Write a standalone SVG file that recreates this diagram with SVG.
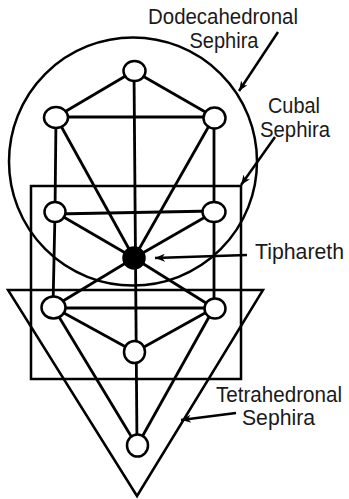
<svg xmlns="http://www.w3.org/2000/svg" width="349" height="499" viewBox="0 0 349 499">
<defs>
<style>
.shape{fill:none;stroke:#000;stroke-width:2.5}
.edge{stroke:#000;stroke-width:2.8;fill:none}
.node{fill:#fff;stroke:#000;stroke-width:2.5}
.solid{fill:#000;stroke:#000;stroke-width:2.5}
.lbl{font-family:"Liberation Sans",Arial,sans-serif;font-size:22px;fill:#1a1a1a;text-anchor:middle}
.ptr{stroke:#000;stroke-width:2.5;fill:none}
</style>
<marker id="ah" viewBox="0 0 10 8" refX="10" refY="4" markerWidth="10" markerHeight="8" markerUnits="userSpaceOnUse" orient="auto">
<path d="M0,0 L10,4 L0,8 L3,4 Z" fill="#000"/>
</marker>
</defs>
<rect width="349" height="499" fill="#fff"/>
<g id="shapes">
<circle class="shape" cx="133" cy="161.5" r="124"/>
<rect class="shape" x="31" y="186" width="210" height="193"/>
<path class="shape" d="M8,290 L263,290 L137,496 Z"/>
</g>
<g id="connectors">
<line class="edge" x1="134" y1="71" x2="137" y2="446"/>
<line class="edge" x1="134" y1="71" x2="56" y2="117"/>
<line class="edge" x1="134" y1="71" x2="214" y2="117"/>
<line class="edge" x1="56" y1="117" x2="214" y2="117"/>
<line class="edge" x1="56" y1="117" x2="55" y2="212"/>
<line class="edge" x1="214" y1="117" x2="214" y2="212"/>
<line class="edge" x1="56" y1="117" x2="134" y2="258"/>
<line class="edge" x1="214" y1="117" x2="134" y2="258"/>
<line class="edge" x1="55" y1="214" x2="214" y2="211"/>
<line class="edge" x1="55" y1="212" x2="134" y2="258"/>
<line class="edge" x1="214" y1="212" x2="134" y2="258"/>
<line class="edge" x1="55" y1="212" x2="53" y2="307"/>
<line class="edge" x1="214" y1="212" x2="214" y2="308"/>
<line class="edge" x1="53" y1="307" x2="134" y2="258"/>
<line class="edge" x1="214" y1="308" x2="134" y2="258"/>
<line class="edge" x1="53" y1="308" x2="214" y2="308"/>
<line class="edge" x1="53" y1="307" x2="135" y2="352"/>
<line class="edge" x1="214" y1="308" x2="135" y2="352"/>
<line class="edge" x1="53" y1="307" x2="137" y2="446"/>
<line class="edge" x1="214" y1="308" x2="137" y2="446"/>
<line class="ptr" x1="278" y1="32" x2="239" y2="91" marker-end="url(#ah)"/>
<line class="ptr" x1="275" y1="137" x2="241" y2="185" marker-end="url(#ah)"/>
<line class="ptr" x1="247" y1="255" x2="155" y2="258" marker-end="url(#ah)"/>
<line class="ptr" x1="236" y1="413" x2="181" y2="420" marker-end="url(#ah)"/>
</g>
<g id="n-top"><ellipse class="node" cx="134.5" cy="71" rx="11" ry="10"/></g>
<g id="n-ul"><ellipse class="node" cx="56" cy="117.5" rx="12" ry="10.5"/></g>
<g id="n-ur"><ellipse class="node" cx="214.5" cy="118" rx="11" ry="10.5"/></g>
<g id="n-ml"><ellipse class="node" cx="55" cy="212" rx="10.5" ry="10"/></g>
<g id="n-mr"><ellipse class="node" cx="214" cy="212" rx="11.5" ry="10"/></g>
<g id="n-tiphareth"><ellipse class="solid" cx="134" cy="258" rx="10.5" ry="10.5"/></g>
<g id="n-ll"><ellipse class="node" cx="53.5" cy="307.5" rx="12" ry="11"/></g>
<g id="n-lr"><ellipse class="node" cx="215" cy="308.5" rx="10.5" ry="10"/></g>
<g id="n-lc"><ellipse class="node" cx="134.5" cy="352" rx="10.5" ry="11"/></g>
<g id="n-bottom"><ellipse class="node" cx="137.5" cy="445.5" rx="10.5" ry="11"/></g>
<g id="labels">
<text class="lbl" x="223" y="24" textLength="150" lengthAdjust="spacingAndGlyphs">Dodecahedronal</text>
<text class="lbl" x="224" y="48" textLength="69" lengthAdjust="spacingAndGlyphs">Sephira</text>
<text class="lbl" x="294" y="113" textLength="52" lengthAdjust="spacingAndGlyphs">Cubal</text>
<text class="lbl" x="295" y="137" textLength="70" lengthAdjust="spacingAndGlyphs">Sephira</text>
<text class="lbl" x="299.5" y="259" textLength="89" lengthAdjust="spacingAndGlyphs">Tiphareth</text>
<text class="lbl" x="279" y="402" textLength="126" lengthAdjust="spacingAndGlyphs">Tetrahedronal</text>
<text class="lbl" x="278.5" y="425" textLength="73" lengthAdjust="spacingAndGlyphs">Sephira</text>
</g>
</svg>
